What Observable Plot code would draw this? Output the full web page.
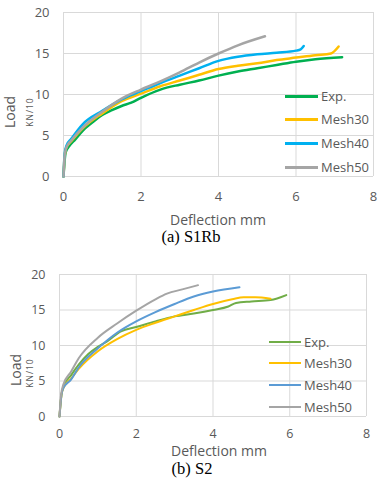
<!DOCTYPE html>
<html>
<head>
<meta charset="utf-8">
<script src="https://cdn.jsdelivr.net/npm/d3@7"></script>
<script src="https://cdn.jsdelivr.net/npm/@observablehq/plot@0.6"></script>
<style>
  html, body { margin: 0; padding: 0; background: #fff; }
  #wrap { position: relative; width: 380px; height: 480px; overflow: hidden; font-family: "Open Sans", sans-serif; color: #595959; }
  .chart { position: absolute; left: 0; }
  .lbl { position: absolute; white-space: nowrap; transform: translate(-50%, -50%); line-height: 1; }
  .rot { transform: translate(-50%, -50%) rotate(-90deg); }
  .cap { font-family: "Liberation Serif", "Times New Roman", serif; color: #000; font-size: 16.5px; }
  .leg { position: absolute; white-space: nowrap; font-size: 13px; line-height: 1; display: flex; align-items: center; }
  .leg span.sw { display: inline-block; margin-right: 3px; }
</style>
</head>
<body>
<div id="wrap"></div>
<script>
// ---- data ----
const xTicks = [0, 2, 4, 6, 8];
const yTicks = [0, 5, 10, 15, 20];
const seriesNames = ["Exp.", "Mesh30", "Mesh40", "Mesh50"];
const colorsA = ["#00B050", "#FFC000", "#00B0F0", "#A5A5A5"];
const colorsB = ["#70AD47", "#FFC000", "#5B9BD5", "#A5A5A5"];

// (a) S1Rb  [deflection mm, load kN/10]
const s1rbExp = [[0,0],[0.03,2],[0.06,3],[0.15,3.7],[0.3,4.5],[0.5,5.6],[0.75,6.6],[1,7.5],[1.25,8.1],[1.5,8.6],[1.75,9.0],[2,9.6],[2.5,10.6],[3,11.2],[3.5,11.7],[4,12.3],[4.5,12.8],[5,13.2],[5.5,13.6],[6,14.0],[6.5,14.3],[7.19,14.55]];
const s1rbM30 = [[0,0],[0.03,2.5],[0.07,3.5],[0.2,4.3],[0.5,5.9],[1,7.7],[1.5,9.2],[2,10.1],[2.5,11.0],[3,11.7],[3.5,12.4],[4,13.1],[4.5,13.5],[5,13.8],[5.5,14.2],[6,14.5],[6.5,14.8],[6.9,15.0],[7.1,15.85]];
const s1rbM40 = [[0,0],[0.03,2.8],[0.08,3.8],[0.2,4.6],[0.5,6.4],[1,8.0],[1.5,9.4],[2,10.4],[2.5,11.4],[3,12.3],[3.5,13.2],[4,14.1],[4.5,14.6],[5,14.9],[5.5,15.1],[6,15.35],[6.12,15.5],[6.2,15.9]];
const s1rbM50 = [[0,0],[0.03,2.6],[0.08,3.6],[0.2,4.4],[0.5,6.0],[1,7.9],[1.5,9.5],[2,10.6],[2.5,11.6],[3,12.7],[3.5,13.9],[4,15.0],[4.5,16.0],[5.2,17.1]];

// (b) S2
const s2Exp = [[0,0],[0.05,3],[0.1,4.2],[0.3,5.8],[0.5,7.3],[0.75,8.8],[1,9.8],[1.25,10.6],[1.6,12.0],[2,12.6],[2.5,13.4],[3,14.1],[3.5,14.5],[4,15.0],[4.4,15.5],[4.6,16.0],[5,16.2],[5.5,16.4],[5.91,17.1]];
const s2M30 = [[0,0],[0.05,3],[0.1,4],[0.3,5.3],[0.5,6.7],[1,9.2],[1.5,10.9],[2,12.2],[2.5,13.2],[3,14.1],[3.5,15.0],[4,15.85],[4.5,16.5],[4.8,16.8],[5.1,16.8],[5.5,16.6]];
const s2M40 = [[0,0],[0.05,3],[0.1,4],[0.3,5.2],[0.5,6.9],[1,9.6],[1.5,11.8],[2,13.4],[2.5,14.7],[3,15.85],[3.5,16.9],[4,17.6],[4.69,18.2]];
const s2M50 = [[0,0],[0.04,3],[0.1,4.5],[0.3,6.3],[0.5,8.2],[1,11.1],[1.5,13.1],[2,14.9],[2.5,16.5],[2.8,17.3],[3.2,17.9],[3.61,18.5]];

const wrap = document.getElementById("wrap");

function makeChart(seriesList, colors, m, sw, top) {
  const marks = [
    Plot.gridX(xTicks, {stroke: "#d9d9d9", strokeOpacity: 1}),
    Plot.gridY(yTicks, {stroke: "#d9d9d9", strokeOpacity: 1}),
    Plot.axisX({ticks: xTicks, tickSize: 0, tickPadding: m.xpad, label: null}),
    Plot.axisY({ticks: yTicks, tickSize: 0, tickPadding: m.ypad, label: null})
  ];
  seriesList.forEach((s, i) => {
    marks.push(Plot.line(s, {x: d => d[0], y: d => d[1], stroke: colors[i], strokeWidth: sw, curve: "monotone-x"}));
  });
  const p = Plot.plot({
    width: 380, height: 240,
    marginLeft: m.l, marginRight: m.r, marginTop: m.t, marginBottom: m.b,
    x: {domain: [0, 8]}, y: {domain: [0, 20]},
    style: {fontFamily: "'Open Sans', sans-serif", fontSize: m.fs, color: "#595959", background: "transparent"},
    marks
  });
  p.classList.add("chart");
  p.style.top = top + "px";
  wrap.appendChild(p);
}

function label(text, x, y, cls, css) {
  const d = document.createElement("div");
  d.className = "lbl " + (cls || "");
  d.textContent = text;
  d.style.left = x + "px";
  d.style.top = y + "px";
  Object.assign(d.style, css || {});
  wrap.appendChild(d);
}

function legend(colors, x, ys, lw, sw) {
  seriesNames.forEach((n, i) => {
    const d = document.createElement("div");
    d.className = "leg";
    d.style.left = x + "px";
    d.style.top = (ys[i] - 8) + "px";
    d.style.height = "16px";
    const s = document.createElement("span");
    s.className = "sw";
    s.style.width = lw + "px";
    s.style.height = sw + "px";
    s.style.background = colors[i];
    d.appendChild(s);
    const t = document.createElement("span");
    t.textContent = n;
    d.appendChild(t);
    wrap.appendChild(d);
  });
}

// top chart (a)
makeChart([s1rbExp, s1rbM30, s1rbM40, s1rbM50], colorsA, {l: 63, r: 7, t: 12, b: 64, xpad: 15, ypad: 14, fs: "13px"}, 2.5, 0);
label("Load", 10, 112, "rot", {fontSize: "14px"});
label("KN/10", 29.5, 112, "rot", {fontSize: "8.5px", letterSpacing: "1px"});
label("Deflection mm", 218, 220, "", {fontSize: "14px"});
label("(a) S1Rb", 191, 237, "cap");
legend(colorsA, 285, [96, 119, 143, 167], 33, 3);

// bottom chart (b)
makeChart([s2Exp, s2M30, s2M40, s2M50], colorsB, {l: 59, r: 14, t: 34, b: 64, xpad: 13, ypad: 14, fs: "12.5px"}, 2, 240);
label("Load", 16, 370, "rot", {fontSize: "14px"});
label("KN/10", 30, 373, "rot", {fontSize: "8.5px", letterSpacing: "1px"});
label("Deflection mm", 219, 451, "", {fontSize: "14px"});
label("(b) S2", 192, 469, "cap");
legend(colorsB, 269, [342, 363, 385, 407], 32, 2.5);
</script>
</body>
</html>
